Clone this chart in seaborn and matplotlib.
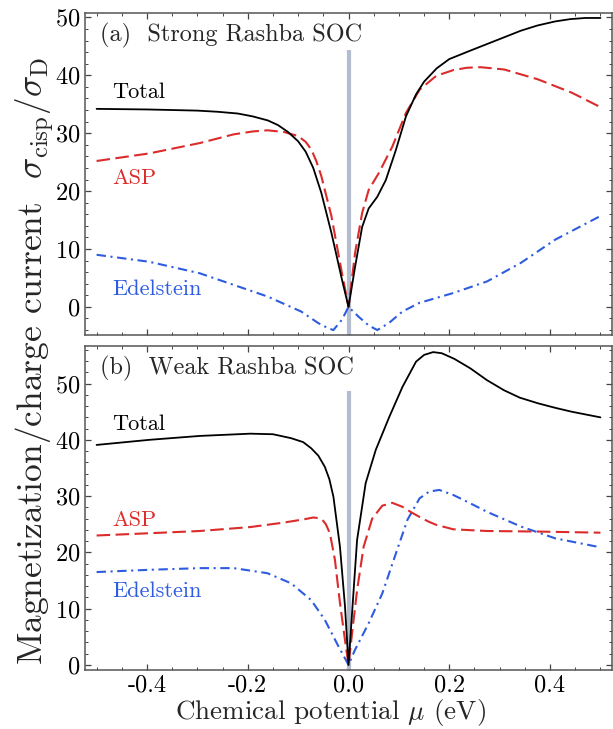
import numpy as np
import pandas as pd
import matplotlib
matplotlib.use("Agg")
import matplotlib.pyplot as plt
from matplotlib.ticker import MultipleLocator, StrMethodFormatter
import seaborn as sns

## donnees (a) : Rashba fort
mu_a_tot = [-0.5, -0.4, -0.3, -0.26, -0.22, -0.19, -0.16, -0.14, -0.12, -0.10,
            -0.085, -0.07, -0.054, -0.034, -0.013, 0.0,
            0.013, 0.027, 0.04, 0.057, 0.074, 0.094, 0.114, 0.134, 0.15, 0.175,
            0.2, 0.24, 0.275, 0.31, 0.342, 0.375, 0.41, 0.44, 0.47, 0.5]
tot_a = [34.2, 34.1, 33.9, 33.7, 33.4, 32.9, 32.2, 31.4, 30.2, 28.6,
         26.8, 24.0, 19.7, 12.8, 4.7, 0.0,
         6.9, 13.8, 17.0, 19.0, 21.9, 27.1, 32.9, 36.7, 38.9, 41.2,
         42.8, 44.2, 45.4, 46.6, 47.7, 48.6, 49.3, 49.7, 49.9, 49.9]

mu_a_asp = [-0.5, -0.396, -0.295, -0.228, -0.19, -0.161, -0.128, -0.10, -0.085, -0.074,
            -0.064, -0.054, -0.034, -0.013, 0.0, 0.013, 0.027, 0.04, 0.06, 0.087,
            0.114, 0.141, 0.174, 0.208, 0.235, 0.262, 0.309, 0.376, 0.443, 0.5]
asp_a = [25.2, 26.5, 28.3, 29.8, 30.3, 30.5, 30.2, 29.5, 28.5, 27.2,
         25.2, 22.6, 15.7, 5.8, 0.0, 9.3, 16.2, 20.2, 23.1, 27.7,
         33.5, 37.5, 39.9, 40.9, 41.3, 41.4, 41.0, 39.3, 37.0, 34.5]

mu_a_ede = [-0.5, -0.396, -0.295, -0.228, -0.161, -0.094, -0.06, -0.04, -0.03, -0.013,
            0.0, 0.02, 0.04, 0.057, 0.08, 0.107, 0.141, 0.208, 0.275, 0.342, 0.41, 0.5]
ede_a = [9.0, 7.8, 5.8, 3.8, 1.8, -0.8, -2.8, -3.7, -4.0, -2.2,
         0.0, -1.7, -3.2, -4.0, -2.8, -0.8, 0.7, 2.4, 4.4, 7.6, 11.6, 15.7]

## donnees (b) : Rashba faible
mu_b_tot = [-0.5, -0.396, -0.295, -0.195, -0.15, -0.114, -0.09, -0.074, -0.06, -0.047,
            -0.038, -0.03, -0.017, -0.007, 0.0, 0.007, 0.017, 0.034, 0.054, 0.081,
            0.107, 0.134, 0.15, 0.168, 0.185, 0.21, 0.242, 0.275, 0.309, 0.34,
            0.376, 0.41, 0.443, 0.5]
tot_b = [39.1, 40.0, 40.7, 41.1, 41.0, 40.3, 39.6, 38.5, 37.2, 35.2,
         33.0, 29.9, 21.0, 10.4, 0.0, 9.2, 22.2, 32.3, 38.2, 44.1,
         49.4, 53.9, 55.1, 55.6, 55.4, 54.4, 52.7, 50.6, 48.8, 47.5,
         46.5, 45.7, 45.0, 44.0]

mu_b_asp = [-0.5, -0.396, -0.295, -0.195, -0.128, -0.087, -0.07, -0.06, -0.052, -0.045,
            -0.037, -0.027, -0.017, -0.007, 0.0, 0.007, 0.017, 0.03, 0.047, 0.067,
            0.087, 0.107, 0.125, 0.141, 0.158, 0.174, 0.208, 0.275, 0.376, 0.5]
asp_b = [23.0, 23.4, 23.8, 24.5, 25.3, 25.9, 26.2, 26.1, 25.8, 25.0,
         23.4, 18.7, 11.0, 4.4, 0.0, 5.6, 13.3, 21.0, 26.0, 28.3,
         28.8, 28.1, 27.1, 26.3, 25.5, 24.9, 24.1, 23.8, 23.7, 23.5]

mu_b_ede = [-0.5, -0.396, -0.295, -0.228, -0.161, -0.114, -0.074, -0.047, -0.02, 0.0,
            0.013, 0.04, 0.067, 0.094, 0.117, 0.141, 0.16, 0.18, 0.208, 0.24,
            0.275, 0.342, 0.41, 0.5]
ede_b = [16.5, 16.9, 17.2, 17.2, 16.3, 14.5, 11.5, 8.0, 3.3, 0.0,
         2.7, 7.4, 12.7, 19.8, 25.8, 29.6, 30.8, 31.1, 30.2, 28.8,
         27.2, 24.6, 22.5, 20.9]

## hauteur du trait gris en mu=0
trait_haut = [44.3, 48.6]

titres = ["(a)  Strong Rashba SOC", "(b)  Weak Rashba SOC"]
xticks = [-0.4, -0.2, 0.0, 0.2, 0.4]
yticks = [0, 10, 20, 30, 40, 50]

noir = "black"
rouge = "#db2b2b"
bleu = "#2e5ce0"
gris = "#b4bccf"

sns.set_style("ticks")
plt.rcParams["font.family"] = ["cmr10", "DejaVu Serif"]
plt.rcParams["mathtext.fontset"] = "cm"
plt.rcParams["axes.unicode_minus"] = False
plt.rcParams["axes.formatter.use_mathtext"] = True

fig = plt.figure(figsize=(6.13, 7.29), dpi=100)
ax_a = fig.add_axes([0.1387, 0.5405, 0.8597, 0.4420])
ax_b = fig.add_axes([0.1387, 0.0810, 0.8597, 0.4445])

panneaux = [
    (ax_a, (mu_a_tot, tot_a), (mu_a_asp, asp_a), (mu_a_ede, ede_a), (-4.85, 50.8)),
    (ax_b, (mu_b_tot, tot_b), (mu_b_asp, asp_b), (mu_b_ede, ede_b), (-0.9, 56.7)),
]
pos_labels = [(0.753, 0.485, 0.143), (0.757, 0.463, 0.242)]

for i, (ax, tot, asp, ede, ylim) in enumerate(panneaux):
    ax.vlines(0.0, ylim[0], trait_haut[i], color=gris, lw=3.0, zorder=1)
    sns.lineplot(x=ede[0], y=ede[1], ax=ax, color=bleu, lw=1.5, sort=False,
                 estimator=None, linestyle=(0, (4.5, 2.2, 1.0, 2.2)), zorder=2)
    sns.lineplot(x=asp[0], y=asp[1], ax=ax, color=rouge, lw=1.5, sort=False,
                 estimator=None, linestyle=(0, (6.5, 2.6)), zorder=3)
    sns.lineplot(x=tot[0], y=tot[1], ax=ax, color=noir, lw=1.3, sort=False,
                 estimator=None, zorder=4)

    ax.set_xlim(-0.523, 0.523)
    ax.set_ylim(*ylim)
    ax.xaxis.set_major_locator(MultipleLocator(0.2))
    ax.xaxis.set_minor_locator(MultipleLocator(0.05))
    ax.set_yticks(yticks)
    ax.yaxis.set_minor_locator(MultipleLocator(2))
    ax.tick_params(which="both", direction="in", top=True, right=True,
                   color="#444444", labelsize=17.5, labelcolor="black")
    ax.tick_params(which="major", length=4.5, width=0.9)
    ax.tick_params(which="minor", length=2.3, width=0.7)
    for s in ax.spines.values():
        s.set_color("#555555")
        s.set_linewidth(1.1)
    ax.set_xlabel("")
    ax.set_ylabel("")

    ax.text(0.028, 0.93, titres[i], transform=ax.transAxes, fontsize=17.5,
            va="center", ha="left")
    yt, ya, ye = pos_labels[i]
    ax.text(0.052, yt, "Total", transform=ax.transAxes, fontsize=16,
            va="center", color=noir)
    ax.text(0.052, ya, "ASP", transform=ax.transAxes, fontsize=16,
            va="center", color=rouge)
    ax.text(0.052, ye, "Edelstein", transform=ax.transAxes, fontsize=16,
            va="center", color=bleu)

ax_a.tick_params(labelbottom=False)
ax_b.set_xticks(xticks)
ax_b.xaxis.set_major_formatter(StrMethodFormatter("{x:.1f}"))
ax_b.tick_params(axis="x", pad=3)
ax_b.set_xlabel(r"Chemical potential $\mu$ (eV)", fontsize=19.5)
ax_b.xaxis.set_label_coords(0.466, -0.083)

fig.text(0.057, 0.505, r"Magnetization/charge current  $\sigma_{\rm cisp}/\sigma_{\rm D}$",
         rotation=90, fontsize=25.5, va="center", ha="center")

fig.savefig("out.png", dpi=100)
